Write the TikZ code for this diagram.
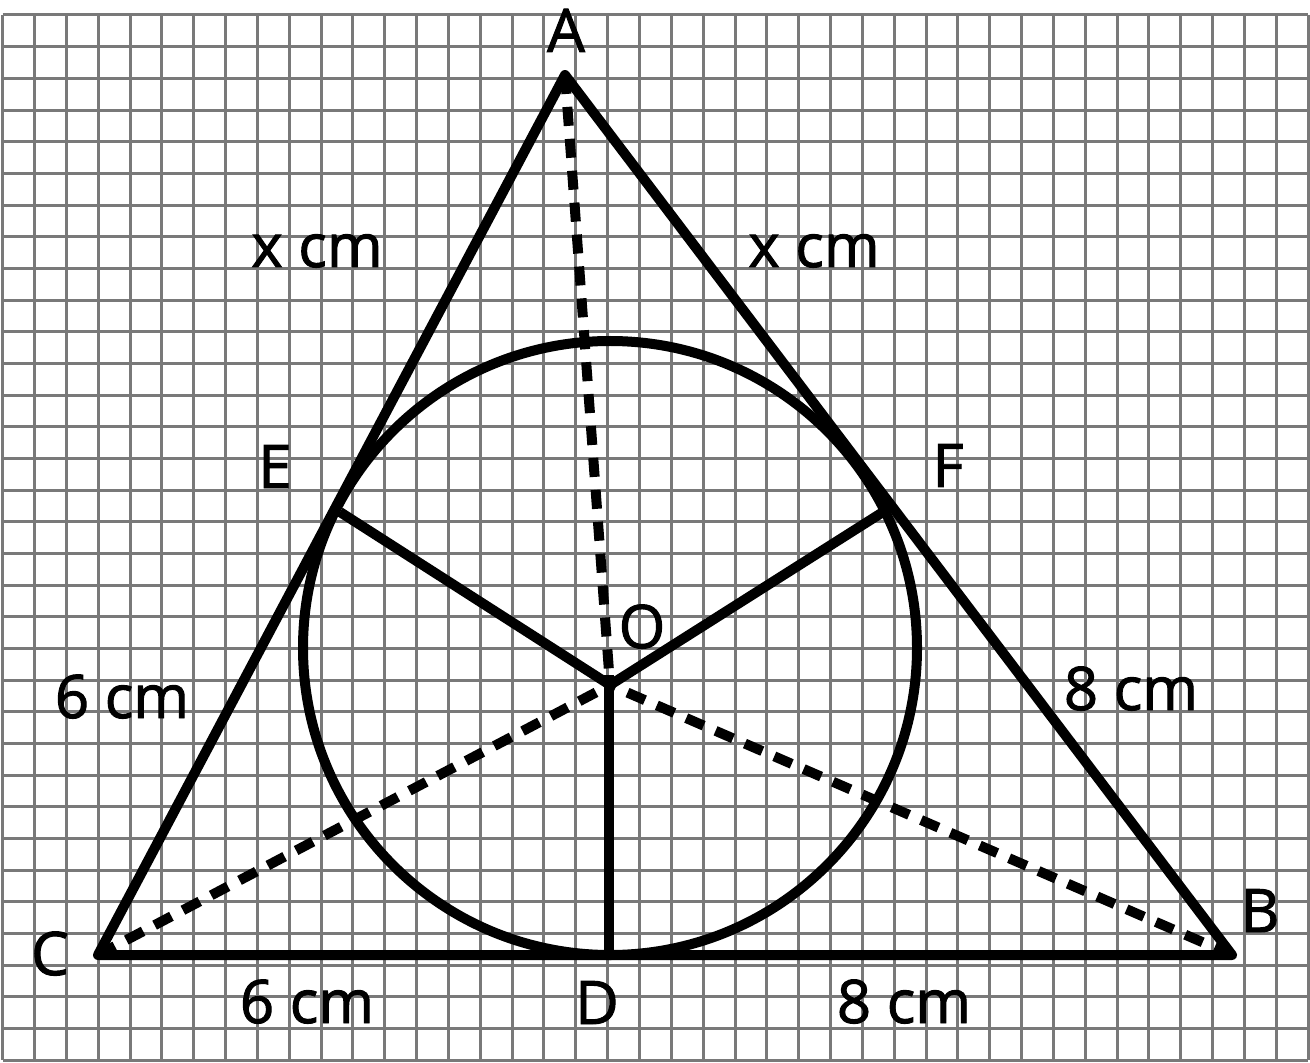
\documentclass[tikz,border=0pt]{standalone}
\usepackage{fontspec}
\setmainfont{Open Sans}
\newfontfamily\lblfont{Open Sans}[FakeBold=1.6]
\begin{document}
\begin{tikzpicture}[x=0.5pt,y=-0.5pt,
  gridline/.style={draw=gray!95!black, line width=1.5pt},
  edge/.style={draw=black, line width=5pt, line join=round, line cap=round},
  dashedge/.style={draw=black, line width=5pt, dash pattern=on 9.5pt off 6.5pt},
  lbl/.style={anchor=base, inner sep=0pt, font=\lblfont\fontsize{30}{36}\selectfont}]
\useasboundingbox (0,0) rectangle (1310,1063);
\fill[white] (0,0) rectangle (1310,1063);
% grid
\foreach \i in {0,...,41} \draw[gridline] ({2.7+31.84*\i},15) -- ({2.7+31.84*\i},1060);
\foreach \j in {0,...,33} \draw[gridline] (2.7,{15+31.67*\j}) -- (1308,{15+31.67*\j});
% points
\coordinate (A) at (565,75);
\coordinate (B) at (1232,955);
\coordinate (C) at (98,955);
\coordinate (D) at (609,955);
\coordinate (E) at (340,512);
\coordinate (F) at (883,512);
\coordinate (O) at (610,685);
\coordinate (Otop) at (609,675);
\coordinate (Ctr) at (610,648);
% figure
\draw[edge] (A) -- (B) -- (C) -- cycle;
\draw[edge] (Ctr) circle[radius=307];
\draw[edge, line cap=butt] (E) -- (O) -- (F);
\draw[edge, line cap=butt] (Otop) -- (D);
\draw[dashedge] (A) -- (O);
\draw[dashedge] (C) -- (O);
\draw[dashedge] (B) -- (O);
% labels
\node[lbl] (lA) at (566,52) {A};
\node[lbl] (lB) at (1260,932) {B};
\node[lbl] (lC) at (50,975) {C};
\node[lbl] (lD) at (597,1024) {D};
\node[lbl] (lE) at (275,488) {E};
\node[lbl] (lF) at (948,487) {F};
\node[lbl] (lO) at (642,648) {O};
\node[lbl] (xl) at (317,267) {x cm};
\node[lbl] (xr) at (814,267) {x cm};
\node[lbl] (sl) at (122,718) {6 cm};
\node[lbl] (er) at (1131,710) {8 cm};
\node[lbl] (sb) at (307,1023) {6 cm};
\node[lbl] (eb) at (904,1023) {8 cm};
\end{tikzpicture}
\end{document}
